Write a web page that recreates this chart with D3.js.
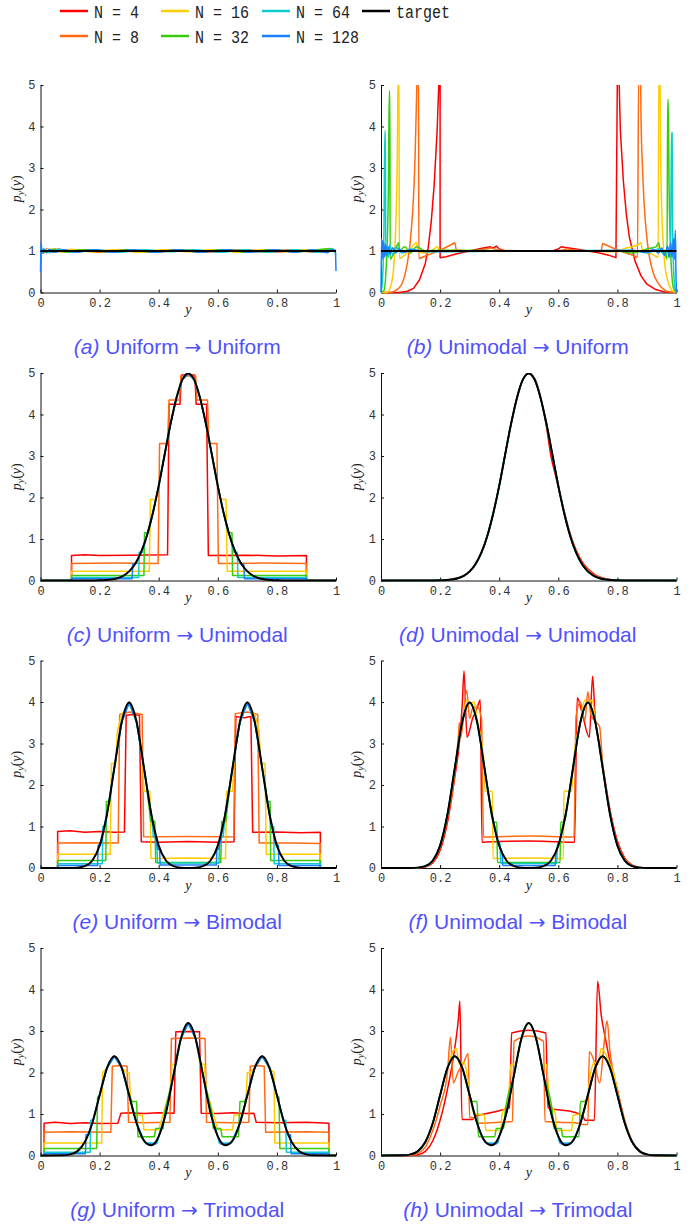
<!DOCTYPE html>
<html>
<head>
<meta charset="utf-8">
<script src="https://cdn.jsdelivr.net/npm/d3@7"></script>
<style>
  body { margin: 0; background: #fff; }
  svg { display: block; }
</style>
</head>
<body>
<div id="fig"></div>
<script>
'use strict';

// Legend / series
const seriesNames = ['N = 4', 'N = 8', 'N = 16', 'N = 32', 'N = 64', 'N = 128', 'target'];
const seriesColors = ['#ff0000', '#ff6a12', '#ffcc00', '#38cc0c', '#0ccccc', '#1a80ff', '#000000'];
const xTicks = [0, 0.2, 0.4, 0.6, 0.8, 1];
const yTicks = [0, 1, 2, 3, 4, 5];

// Targets
const flatTarget = [[0, 1], [1, 1]];
const uniTarget = [[0, 0], [0.18, 0.002], [0.2, 0.004], [0.22, 0.011], [0.24, 0.025], [0.26, 0.055], [0.28, 0.114], [0.3, 0.219], [0.32, 0.397], [0.34, 0.675], [0.36, 1.08], [0.38, 1.62], [0.4, 2.28], [0.42, 3.03], [0.44, 3.77], [0.46, 4.4], [0.48, 4.84], [0.5, 4.99], [0.52, 4.84], [0.54, 4.4], [0.56, 3.77], [0.58, 3.03], [0.6, 2.28], [0.62, 1.62], [0.64, 1.08], [0.66, 0.675], [0.68, 0.397], [0.7, 0.219], [0.72, 0.114], [0.74, 0.055], [0.76, 0.025], [0.78, 0.011], [0.8, 0.004], [0.82, 0.002], [1, 0]];
const biTarget = [[0, 0], [0.1, 0.001], [0.125, 0.009], [0.15, 0.044], [0.175, 0.175], [0.2, 0.54], [0.225, 1.296], [0.25, 2.42], [0.275, 3.521], [0.3, 3.99], [0.325, 3.521], [0.35, 2.42], [0.375, 1.296], [0.4, 0.54], [0.425, 0.175], [0.45, 0.044], [0.475, 0.009], [0.5, 0.003], [0.525, 0.009], [0.55, 0.044], [0.575, 0.175], [0.6, 0.54], [0.625, 1.296], [0.65, 2.42], [0.675, 3.521], [0.7, 3.99], [0.725, 3.521], [0.75, 2.42], [0.775, 1.296], [0.8, 0.54], [0.825, 0.175], [0.85, 0.044], [0.875, 0.009], [0.9, 0.001], [1, 0]];
const triTarget = [[0, 0], [0.075, 0.004], [0.1, 0.027], [0.125, 0.105], [0.15, 0.324], [0.175, 0.777], [0.2, 1.452], [0.225, 2.113], [0.25, 2.394], [0.275, 2.113], [0.3, 1.453], [0.325, 0.784], [0.35, 0.359], [0.375, 0.245], [0.4, 0.459], [0.425, 1.041], [0.45, 1.936], [0.475, 2.815], [0.5, 3.19], [0.525, 2.815], [0.55, 1.936], [0.575, 1.041], [0.6, 0.459], [0.625, 0.245], [0.65, 0.359], [0.675, 0.784], [0.7, 1.453], [0.725, 2.113], [0.75, 2.394], [0.775, 2.113], [0.8, 1.452], [0.825, 0.777], [0.85, 0.324], [0.875, 0.105], [0.9, 0.027], [0.925, 0.004], [1, 0]];

// pick the stretch of a read curve between a and b
const seg = (arr, a, b) => arr.filter(d => d[0] >= a && d[0] <= b);

// (a) Uniform -> Uniform
const aN4 = [[0, 1.0], [0.01, 0.95], [0.02, 1.05], [0.04, 0.97], [0.06, 1.04], [0.1, 0.98], [0.15, 1.03], [0.2, 0.98], [0.3, 1.02], [0.4, 0.98], [0.5, 1.02], [0.6, 0.98], [0.7, 1.02], [0.8, 0.98], [0.9, 1.02], [0.95, 0.97], [0.98, 1.04], [1, 1.0]];
const aN8 = [[0, 1.02], [0.02, 0.97], [0.05, 1.05], [0.08, 0.98], [0.12, 1.03], [0.2, 0.97], [0.28, 1.03], [0.36, 0.98], [0.45, 1.03], [0.55, 0.97], [0.65, 1.03], [0.75, 0.98], [0.85, 1.03], [0.93, 0.97], [0.98, 1.05], [1, 1.0]];
const aN16 = [[0, 0.97], [0.03, 1.04], [0.07, 0.97], [0.1, 1.04], [0.17, 0.98], [0.25, 1.03], [0.33, 0.97], [0.42, 1.03], [0.5, 0.98], [0.58, 1.03], [0.67, 0.97], [0.75, 1.03], [0.83, 0.98], [0.9, 1.03], [0.96, 0.97], [1, 1.04]];
const aN32 = [[0, 1.05], [0.01, 0.97], [0.04, 1.04], [0.09, 0.97], [0.14, 1.03], [0.22, 0.98], [0.3, 1.03], [0.38, 0.97], [0.47, 1.03], [0.53, 0.98], [0.62, 1.03], [0.7, 0.97], [0.78, 1.03], [0.87, 0.98], [0.95, 1.04], [0.98, 1.06], [1, 0.97]];
const aN64 = [[0, 1.1], [0.005, 0.95], [0.01, 1.05], [0.03, 0.96], [0.06, 1.04], [0.11, 0.97], [0.19, 1.03], [0.27, 0.97], [0.35, 1.03], [0.44, 0.98], [0.52, 1.03], [0.61, 0.97], [0.69, 1.03], [0.77, 0.97], [0.86, 1.03], [0.94, 0.97], [0.99, 1.04], [1, 0.9]];
const aN128 = [[0, 0.5], [0.002, 1.22], [0.005, 0.95], [0.01, 1.05], [0.02, 0.96], [0.03, 1.04], [0.05, 0.97], [0.08, 1.03], [0.12, 0.97], [0.18, 1.03], [0.24, 0.97], [0.31, 1.03], [0.39, 0.97], [0.46, 1.03], [0.54, 0.97], [0.63, 1.03], [0.71, 0.97], [0.79, 1.03], [0.86, 0.97], [0.92, 1.03], [0.97, 0.96], [0.99, 1.04], [0.998, 0.97], [1, 0.52]];

// (b) Unimodal -> Uniform
const bN4 = [[0, 0], [0.06, 0], [0.09, 0.03], [0.11, 0.1], [0.13, 0.3], [0.15, 0.7], [0.16, 1.1], [0.17, 1.7], [0.18, 2.6], [0.19, 3.9], [0.197, 5.3], [0.2, 5.3], [0.2, 0.84], [0.22, 0.86], [0.25, 0.92], [0.28, 0.97], [0.3, 1.0], [0.33, 1.05], [0.35, 1.08], [0.37, 1.1], [0.38, 1.07], [0.39, 1.12], [0.4, 1.05], [0.42, 1.0], [0.5, 1.0], [0.58, 1.0], [0.6, 1.05], [0.61, 1.1], [0.63, 1.08], [0.66, 1.05], [0.7, 1.0], [0.74, 0.95], [0.77, 0.9], [0.795, 0.84], [0.8, 5.3], [0.805, 5.3], [0.81, 3.9], [0.82, 2.7], [0.83, 1.9], [0.84, 1.35], [0.86, 0.75], [0.88, 0.4], [0.9, 0.2], [0.93, 0.07], [0.96, 0.01], [1, 0]];
const bN8 = [[0, 0], [0.03, 0], [0.05, 0.05], [0.07, 0.2], [0.08, 0.4], [0.09, 0.75], [0.1, 1.3], [0.11, 2.3], [0.115, 3.2], [0.12, 4.6], [0.123, 5.3], [0.127, 5.3], [0.128, 0.82], [0.15, 0.88], [0.2, 1.02], [0.245, 1.18], [0.25, 1.2], [0.255, 1.02], [0.3, 1.0], [0.35, 1.04], [0.37, 1.07], [0.4, 1.02], [0.5, 1.0], [0.6, 1.0], [0.63, 1.05], [0.65, 1.03], [0.7, 1.0], [0.745, 1.0], [0.75, 1.18], [0.76, 1.15], [0.8, 1.03], [0.85, 0.9], [0.868, 0.85], [0.872, 5.3], [0.878, 5.3], [0.88, 4.2], [0.885, 3.0], [0.89, 2.2], [0.9, 1.3], [0.91, 0.8], [0.92, 0.5], [0.94, 0.2], [0.96, 0.06], [0.98, 0.01], [1, 0]];
const bN16 = [[0, 0], [0.02, 0], [0.03, 0.1], [0.04, 0.4], [0.045, 0.8], [0.05, 1.6], [0.055, 3.2], [0.058, 5.3], [0.061, 5.3], [0.062, 0.82], [0.08, 0.9], [0.1, 1.05], [0.12, 1.2], [0.125, 1.0], [0.15, 0.95], [0.18, 1.05], [0.19, 1.1], [0.2, 1.0], [0.25, 1.02], [0.3, 1.0], [0.5, 1.0], [0.7, 1.0], [0.8, 0.98], [0.82, 1.05], [0.87, 1.15], [0.88, 1.2], [0.885, 1.0], [0.91, 0.95], [0.938, 0.85], [0.94, 5.3], [0.944, 5.3], [0.946, 3.5], [0.95, 2.0], [0.955, 1.2], [0.96, 0.7], [0.97, 0.3], [0.98, 0.1], [0.99, 0.02], [1, 0]];
const bN32 = [[0, 0], [0.01, 0.05], [0.015, 0.3], [0.02, 1.0], [0.025, 2.5], [0.028, 4.85], [0.03, 4.85], [0.031, 0.8], [0.04, 0.9], [0.05, 1.05], [0.06, 1.2], [0.062, 1.0], [0.08, 1.1], [0.1, 0.95], [0.12, 1.1], [0.15, 1.0], [0.2, 1.02], [0.5, 1.0], [0.8, 1.0], [0.85, 0.95], [0.9, 1.05], [0.93, 1.1], [0.94, 1.2], [0.945, 1.0], [0.96, 0.95], [0.968, 0.8], [0.97, 4.65], [0.972, 4.65], [0.975, 2.5], [0.98, 1.0], [0.985, 0.35], [0.99, 0.1], [1, 0]];
const bN64 = [[0, 0], [0.005, 0.3], [0.01, 1.5], [0.013, 3.9], [0.015, 3.9], [0.016, 0.9], [0.02, 1.1], [0.025, 0.85], [0.03, 1.15], [0.04, 0.9], [0.05, 1.1], [0.07, 0.95], [0.1, 1.05], [0.15, 0.98], [0.5, 1.0], [0.85, 1.02], [0.9, 0.95], [0.94, 1.05], [0.96, 0.9], [0.97, 1.1], [0.975, 0.85], [0.98, 1.1], [0.983, 3.85], [0.985, 3.85], [0.987, 1.5], [0.99, 0.6], [0.995, 0.1], [1, 0]];
const bN128 = [[0, 0], [0.002, 1.3], [0.004, 0.8], [0.006, 1.25], [0.008, 0.85], [0.01, 1.2], [0.013, 0.85], [0.016, 1.15], [0.02, 0.9], [0.025, 1.1], [0.03, 0.92], [0.04, 1.08], [0.05, 0.95], [0.06, 1.05], [0.08, 0.97], [0.1, 1.03], [0.15, 0.99], [0.5, 1.0], [0.85, 1.01], [0.9, 0.97], [0.92, 1.04], [0.94, 0.95], [0.95, 1.07], [0.96, 0.9], [0.97, 1.12], [0.975, 0.85], [0.98, 1.2], [0.985, 0.85], [0.99, 1.3], [0.993, 0.8], [0.996, 1.5], [0.998, 0.5], [1, 0]];

// (c) Uniform -> Unimodal
const cN4 = [[0, 0], [0.105, 0], [0.105, 0.6], [0.15, 0.62], [0.2, 0.6], [0.3, 0.61], [0.43, 0.62], [0.435, 4.25], [0.472, 4.25], [0.477, 4.95], [0.522, 4.95], [0.527, 4.25], [0.562, 4.25], [0.568, 0.6], [0.7, 0.61], [0.8, 0.59], [0.9, 0.6], [0.9, 0], [1, 0]];
const cN8 = [[0, 0], [0.105, 0], [0.105, 0.41], [0.25, 0.42], [0.398, 0.41], [0.403, 3.3], [0.43, 3.3], [0.435, 4.35], [0.47, 4.35], [0.475, 4.93], [0.525, 4.93], [0.53, 4.35], [0.565, 4.35], [0.57, 3.3], [0.597, 3.3], [0.602, 0.41], [0.75, 0.42], [0.9, 0.41], [0.9, 0], [1, 0]];
const cN16 = [[0, 0], [0.105, 0], [0.105, 0.22], [0.368, 0.22], [0.372, 1.95], [0.39, 1.95], ...seg(uniTarget, 0.4, 0.6), [0.61, 1.95], [0.628, 1.95], [0.632, 0.22], [0.9, 0.22], [0.9, 0], [1, 0]];
const cN32 = [[0, 0], [0.105, 0], [0.105, 0.12], [0.35, 0.12], [0.352, 1.15], [0.365, 1.15], ...seg(uniTarget, 0.38, 0.62), [0.635, 1.15], [0.648, 1.15], [0.65, 0.12], [0.9, 0.12], [0.9, 0], [1, 0]];
const cN64 = [[0, 0], [0.105, 0], [0.105, 0.07], [0.332, 0.07], [0.334, 0.68], [0.345, 0.68], ...seg(uniTarget, 0.36, 0.64), [0.655, 0.68], [0.666, 0.68], [0.668, 0.07], [0.9, 0.07], [0.9, 0], [1, 0]];
const cN128 = [[0, 0], [0.105, 0], [0.105, 0.04], [0.31, 0.04], [0.312, 0.4], [0.322, 0.4], ...seg(uniTarget, 0.34, 0.66), [0.678, 0.4], [0.688, 0.4], [0.69, 0.04], [0.9, 0.04], [0.9, 0], [1, 0]];

// (d) Unimodal -> Unimodal
const dN4 = [[0, 0], [0.2, 0.004], [0.24, 0.025], [0.28, 0.114], [0.32, 0.397], [0.36, 1.08], [0.4, 2.28], [0.44, 3.77], [0.48, 4.84], [0.5, 4.99], [0.52, 4.87], [0.54, 4.42], [0.56, 3.7], [0.575, 3.0], [0.59, 2.55], [0.61, 1.95], [0.64, 1.13], [0.68, 0.46], [0.72, 0.16], [0.76, 0.04], [0.8, 0.005], [1, 0]];
const dN8 = [[0, 0], [0.2, 0.004], [0.28, 0.114], [0.36, 1.08], [0.4, 2.28], [0.44, 3.77], [0.48, 4.84], [0.5, 4.99], [0.52, 4.86], [0.56, 3.8], [0.6, 2.3], [0.64, 1.12], [0.68, 0.43], [0.72, 0.14], [0.76, 0.035], [0.8, 0.005], [1, 0]];

// (e) Uniform -> Bimodal
const eN4 = [[0, 0], [0.058, 0], [0.058, 0.88], [0.1, 0.9], [0.15, 0.86], [0.2, 0.88], [0.25, 0.86], [0.284, 0.87], [0.29, 3.68], [0.31, 3.7], [0.335, 3.68], [0.341, 0.63], [0.4, 0.62], [0.5, 0.64], [0.6, 0.62], [0.655, 0.63], [0.661, 3.65], [0.69, 3.62], [0.712, 3.65], [0.718, 0.86], [0.8, 0.87], [0.88, 0.85], [0.947, 0.86], [0.947, 0], [1, 0]];
const eN8 = [[0, 0], [0.058, 0], [0.058, 0.6], [0.15, 0.61], [0.263, 0.6], [0.268, 3.7], [0.3, 3.76], [0.344, 3.7], [0.349, 0.75], [0.5, 0.76], [0.654, 0.75], [0.659, 3.72], [0.7, 3.76], [0.735, 3.7], [0.74, 0.6], [0.85, 0.6], [0.947, 0.59], [0.947, 0], [1, 0]];
const eN16 = [[0, 0], [0.058, 0], [0.058, 0.33], [0.236, 0.33], [0.24, 2.52], [0.255, 2.52], [0.26, 3.3], [0.275, 3.7], [0.3, 3.95], [0.325, 3.6], [0.345, 2.6], [0.35, 1.85], [0.37, 1.85], [0.374, 0.23], [0.5, 0.24], [0.626, 0.23], [0.63, 1.85], [0.65, 1.85], [0.655, 2.6], [0.675, 3.6], [0.7, 3.95], [0.725, 3.7], [0.74, 3.3], [0.745, 2.52], [0.76, 2.52], [0.764, 0.33], [0.947, 0.33], [0.947, 0], [1, 0]];
const eN32 = [[0, 0], [0.058, 0], [0.058, 0.18], [0.221, 0.18], [0.223, 1.6], [0.235, 1.6], [0.238, 1.9], ...seg(biTarget, 0.25, 0.35), [0.362, 1.8], [0.373, 1.12], [0.387, 1.12], [0.39, 0.13], [0.61, 0.13], [0.613, 1.12], [0.627, 1.12], [0.638, 1.8], ...seg(biTarget, 0.65, 0.75), [0.762, 1.9], [0.765, 1.6], [0.777, 1.6], [0.779, 0.18], [0.947, 0.18], [0.947, 0], [1, 0]];
const eN64 = [[0, 0], [0.058, 0], [0.058, 0.1], [0.209, 0.1], [0.211, 1.0], [0.22, 1.0], ...seg(biTarget, 0.225, 0.375), [0.382, 0.75], [0.393, 0.75], [0.396, 0.12], [0.604, 0.12], [0.607, 0.75], [0.618, 0.75], ...seg(biTarget, 0.625, 0.775), [0.78, 1.0], [0.789, 1.0], [0.791, 0.1], [0.947, 0.1], [0.947, 0], [1, 0]];
const eN128 = [[0, 0], [0.058, 0], [0.058, 0.06], [0.193, 0.06], [0.195, 0.55], [0.203, 0.55], [0.212, 0.9], ...seg(biTarget, 0.225, 0.375), [0.39, 0.7], [0.397, 0.45], [0.403, 0.45], [0.405, 0.07], [0.595, 0.07], [0.597, 0.45], [0.603, 0.45], [0.61, 0.7], ...seg(biTarget, 0.625, 0.775), [0.788, 0.9], [0.797, 0.55], [0.805, 0.55], [0.807, 0.06], [0.947, 0.06], [0.947, 0], [1, 0]];

// (f) Unimodal -> Bimodal
const fN4 = [[0, 0], [0.12, 0.003], [0.15, 0.025], [0.175, 0.12], [0.2, 0.42], [0.225, 1.1], [0.25, 2.2], [0.265, 3.0], [0.275, 3.95], [0.281, 4.75], [0.291, 3.15], [0.31, 3.6], [0.325, 3.85], [0.336, 4.05], [0.342, 0.62], [0.4, 0.64], [0.5, 0.65], [0.6, 0.63], [0.655, 0.62], [0.664, 4.1], [0.68, 3.75], [0.705, 3.15], [0.716, 4.62], [0.725, 3.6], [0.74, 2.95], [0.75, 2.5], [0.775, 1.4], [0.8, 0.65], [0.825, 0.24], [0.85, 0.07], [0.875, 0.017], [0.9, 0.004], [1, 0]];
const fN8 = [[0, 0], [0.12, 0.005], [0.15, 0.035], [0.175, 0.15], [0.2, 0.48], [0.225, 1.2], [0.25, 2.3], [0.262, 3.2], [0.265, 3.5], [0.27, 3.15], [0.29, 4.28], [0.3, 3.6], [0.31, 3.85], [0.325, 3.9], [0.34, 3.6], [0.347, 0.75], [0.5, 0.77], [0.653, 0.75], [0.66, 3.65], [0.675, 4.0], [0.69, 3.55], [0.7, 4.25], [0.71, 3.7], [0.73, 3.5], [0.74, 3.4], [0.75, 2.5], [0.775, 1.35], [0.8, 0.6], [0.825, 0.21], [0.85, 0.06], [0.875, 0.015], [0.9, 0.003], [1, 0]];
const fN16 = [[0, 0], [0.1, 0.001], [0.15, 0.04], [0.175, 0.17], [0.2, 0.53], [0.225, 1.28], [0.25, 2.4], [0.275, 3.5], [0.29, 4.05], [0.3, 3.95], [0.315, 4.0], [0.325, 3.6], [0.34, 3.05], [0.35, 2.4], [0.352, 1.85], [0.377, 1.85], [0.379, 0.23], [0.5, 0.24], [0.617, 0.23], [0.619, 1.85], [0.645, 1.85], [0.65, 2.45], [0.675, 3.55], [0.69, 4.05], [0.7, 3.95], [0.715, 4.05], [0.725, 3.55], [0.75, 2.45], [0.775, 1.3], [0.8, 0.55], [0.825, 0.18], [0.85, 0.045], [0.875, 0.01], [0.9, 0.001], [1, 0]];
const fN32 = [...seg(biTarget, 0, 0.35), [0.365, 1.7], [0.38, 1.1], [0.392, 1.1], [0.394, 0.13], [0.606, 0.13], [0.608, 1.1], [0.62, 1.1], [0.635, 1.7], ...seg(biTarget, 0.65, 1)];
const fN64 = [...seg(biTarget, 0, 0.375), [0.39, 0.85], [0.398, 0.6], [0.403, 0.6], [0.405, 0.11], [0.595, 0.11], [0.597, 0.6], [0.602, 0.6], [0.61, 0.85], ...seg(biTarget, 0.625, 1)];
const fN128 = [...seg(biTarget, 0, 0.4), [0.41, 0.35], [0.412, 0.06], [0.59, 0.06], [0.592, 0.35], ...seg(biTarget, 0.6, 1)];

// (g) Uniform -> Trimodal
const gN4 = [[0, 0], [0.012, 0], [0.012, 0.78], [0.05, 0.8], [0.1, 0.77], [0.15, 0.79], [0.2, 0.77], [0.262, 0.78], [0.272, 1.02], [0.3, 1.03], [0.35, 1.01], [0.4, 1.03], [0.452, 1.02], [0.458, 2.98], [0.5, 2.99], [0.538, 2.98], [0.544, 1.02], [0.6, 1.01], [0.65, 1.03], [0.7, 1.01], [0.722, 1.02], [0.73, 0.8], [0.8, 0.79], [0.9, 0.8], [0.976, 0.78], [0.976, 0], [1, 0]];
const gN8 = [[0, 0], [0.012, 0], [0.012, 0.56], [0.1, 0.57], [0.238, 0.56], [0.243, 2.15], [0.27, 2.17], [0.293, 2.15], [0.298, 0.8], [0.35, 0.79], [0.438, 0.8], [0.443, 2.82], [0.5, 2.83], [0.557, 2.82], [0.562, 0.8], [0.65, 0.79], [0.705, 0.8], [0.71, 2.15], [0.73, 2.17], [0.757, 2.15], [0.762, 0.56], [0.9, 0.57], [0.976, 0.56], [0.976, 0], [1, 0]];
const gN16 = [[0, 0], [0.012, 0], [0.012, 0.3], [0.207, 0.3], [0.21, 2.0], [0.225, 2.1], [0.25, 2.4], [0.275, 2.12], [0.29, 2.0], [0.3, 2.0], [0.305, 1.3], [0.315, 0.98], [0.345, 0.97], [0.35, 0.62], [0.4, 0.62], [0.415, 1.0], [0.44, 1.6], [0.445, 2.2], [0.46, 2.2], [0.475, 2.8], [0.5, 3.2], [0.525, 2.8], [0.54, 2.2], [0.555, 2.2], [0.56, 1.6], [0.585, 1.0], [0.6, 0.62], [0.65, 0.62], [0.655, 0.97], [0.685, 0.98], [0.695, 1.3], [0.7, 2.0], [0.71, 2.0], [0.725, 2.12], [0.75, 2.4], [0.775, 2.1], [0.79, 2.0], [0.793, 0.3], [0.976, 0.3], [0.976, 0], [1, 0]];
const gN32 = [[0, 0], [0.012, 0], [0.012, 0.17], [0.19, 0.17], [0.193, 1.4], [0.2, 1.45], [0.225, 2.11], [0.25, 2.39], [0.275, 2.11], [0.3, 1.45], [0.31, 1.3], [0.325, 1.3], [0.33, 0.45], [0.385, 0.45], [0.39, 0.65], [0.415, 0.65], [0.42, 1.04], [0.45, 1.94], [0.475, 2.82], [0.5, 3.19], [0.525, 2.82], [0.55, 1.94], [0.58, 1.04], [0.585, 0.65], [0.61, 0.65], [0.615, 0.45], [0.67, 0.45], [0.675, 1.3], [0.69, 1.3], [0.7, 1.45], [0.725, 2.11], [0.75, 2.39], [0.775, 2.11], [0.8, 1.45], [0.807, 1.4], [0.81, 0.17], [0.976, 0.17], [0.976, 0], [1, 0]];
const gN64 = [[0, 0], [0.012, 0], [0.012, 0.08], [0.168, 0.08], [0.17, 0.85], [0.178, 0.85], ...seg(triTarget, 0.2, 0.35), [0.355, 0.3], [0.395, 0.3], [0.4, 0.46], ...seg(triTarget, 0.425, 0.575), [0.6, 0.46], [0.605, 0.3], [0.645, 0.3], [0.65, 0.36], ...seg(triTarget, 0.675, 0.8), [0.822, 0.85], [0.83, 0.85], [0.832, 0.08], [0.976, 0.08], [0.976, 0], [1, 0]];
const gN128 = [[0, 0], [0.012, 0], [0.012, 0.04], [0.152, 0.04], [0.154, 0.5], [0.163, 0.5], ...seg(triTarget, 0.175, 0.35), [0.36, 0.28], [0.39, 0.28], ...seg(triTarget, 0.4, 0.6), [0.61, 0.28], [0.64, 0.28], ...seg(triTarget, 0.65, 0.825), [0.837, 0.5], [0.846, 0.5], [0.848, 0.04], [0.976, 0.04], [0.976, 0], [1, 0]];

// (h) Unimodal -> Trimodal
const hN4 = [[0, 0], [0.1, 0.003], [0.125, 0.02], [0.15, 0.1], [0.175, 0.35], [0.2, 0.85], [0.225, 1.6], [0.25, 2.6], [0.262, 3.3], [0.267, 3.72], [0.274, 0.87], [0.31, 0.87], [0.32, 0.95], [0.35, 1.0], [0.4, 1.08], [0.435, 1.15], [0.442, 2.95], [0.5, 3.02], [0.558, 2.95], [0.565, 1.15], [0.6, 1.1], [0.65, 1.05], [0.683, 0.95], [0.69, 0.85], [0.722, 0.85], [0.733, 4.2], [0.745, 3.4], [0.76, 2.8], [0.78, 2.1], [0.8, 1.55], [0.825, 0.8], [0.85, 0.32], [0.875, 0.09], [0.9, 0.02], [0.95, 0], [1, 0]];
const hN8 = [[0, 0], [0.1, 0.005], [0.125, 0.05], [0.15, 0.2], [0.175, 0.6], [0.2, 1.2], [0.225, 2.0], [0.235, 2.85], [0.245, 1.75], [0.26, 2.0], [0.28, 2.25], [0.295, 2.45], [0.3, 0.92], [0.32, 0.9], [0.33, 0.78], [0.4, 0.8], [0.445, 0.82], [0.45, 2.75], [0.5, 2.88], [0.55, 2.75], [0.555, 0.82], [0.6, 0.8], [0.67, 0.78], [0.68, 0.75], [0.7, 0.75], [0.705, 2.5], [0.72, 2.3], [0.74, 1.75], [0.755, 2.7], [0.765, 3.25], [0.775, 2.5], [0.8, 1.6], [0.825, 0.85], [0.85, 0.35], [0.875, 0.1], [0.9, 0.02], [0.95, 0], [1, 0]];
const hN16 = [...seg(triTarget, 0, 0.225), [0.24, 2.45], [0.255, 2.58], [0.265, 2.2], [0.28, 2.25], [0.29, 2.0], [0.3, 1.5], [0.315, 1.0], [0.35, 0.97], [0.355, 0.6], [0.405, 0.6], [0.41, 1.0], [0.43, 1.3], [0.44, 2.2], [0.455, 2.2], [0.475, 2.8], [0.5, 3.18], [0.525, 2.8], [0.545, 2.2], [0.56, 2.2], [0.57, 1.3], [0.59, 1.0], [0.595, 0.6], [0.645, 0.6], [0.65, 0.97], [0.685, 1.0], [0.7, 1.5], [0.71, 2.0], [0.72, 2.25], [0.735, 2.2], [0.745, 2.58], [0.76, 2.45], [0.775, 2.2], [0.79, 1.9], [0.8, 1.5], ...seg(triTarget, 0.825, 1)];
const hN32 = [...seg(triTarget, 0, 0.3), [0.31, 1.3], [0.325, 1.3], [0.33, 0.45], [0.385, 0.45], [0.39, 0.65], [0.415, 0.65], [0.42, 1.04], ...seg(triTarget, 0.45, 0.55), [0.58, 1.04], [0.585, 0.65], [0.61, 0.65], [0.615, 0.45], [0.67, 0.45], [0.675, 1.3], [0.69, 1.3], ...seg(triTarget, 0.7, 1)];
const hN64 = [...seg(triTarget, 0, 0.35), [0.355, 0.3], [0.395, 0.3], [0.4, 0.46], ...seg(triTarget, 0.425, 0.575), [0.6, 0.46], [0.605, 0.3], [0.645, 0.3], [0.65, 0.36], ...seg(triTarget, 0.675, 1)];
const hN128 = [...seg(triTarget, 0, 0.35), [0.36, 0.28], [0.39, 0.28], ...seg(triTarget, 0.4, 0.6), [0.61, 0.28], [0.64, 0.28], ...seg(triTarget, 0.65, 1)];

// Panels
const panels = [
    {tag: '(a)', from: 'Uniform', to: 'Uniform', col: 0, row: 0, curves: [aN4, aN8, aN16, aN32, aN64, aN128], target: flatTarget},
    {tag: '(b)', from: 'Unimodal', to: 'Uniform', col: 1, row: 0, curves: [bN4, bN8, bN16, bN32, bN64, bN128], target: flatTarget},
    {tag: '(c)', from: 'Uniform', to: 'Unimodal', col: 0, row: 1, curves: [cN4, cN8, cN16, cN32, cN64, cN128], target: uniTarget},
    {tag: '(d)', from: 'Unimodal', to: 'Unimodal', col: 1, row: 1, curves: [dN4, dN8, uniTarget, uniTarget, uniTarget, uniTarget], target: uniTarget},
    {tag: '(e)', from: 'Uniform', to: 'Bimodal', col: 0, row: 2, curves: [eN4, eN8, eN16, eN32, eN64, eN128], target: biTarget},
    {tag: '(f)', from: 'Unimodal', to: 'Bimodal', col: 1, row: 2, curves: [fN4, fN8, fN16, fN32, fN64, fN128], target: biTarget},
    {tag: '(g)', from: 'Uniform', to: 'Trimodal', col: 0, row: 3, curves: [gN4, gN8, gN16, gN32, gN64, gN128], target: triTarget},
    {tag: '(h)', from: 'Unimodal', to: 'Trimodal', col: 1, row: 3, curves: [hN4, hN8, hN16, hN32, hN64, hN128], target: triTarget}
];

// curves with vertical jumps stay straight, smooth ones get monotone interpolation
const hasJumps = arr => arr.some((d, i) => i > 0 && d[0] === arr[i - 1][0]);

class DensityPanel {

    // Configs
    colX = [40.5, 381];
    rowY = [85, 373, 660.5, 948];
    pw = 295.5;
    ph = 207.5;

    constructor(_cfg, _svg, _i) {
        this.cfg = _cfg;
        this.svg = _svg;
        this.idx = _i;
        this.initVis();
    }

    initVis() {
        const vis = this;
        const c = vis.cfg;

        vis.left = vis.colX[c.col];
        vis.top = vis.rowY[c.row];

        vis.g = vis.svg.append('g')
            .attr('transform', `translate(${vis.left},${vis.top})`);

        vis.x = d3.scaleLinear().domain([0, 1]).range([0, vis.pw]);
        vis.y = d3.scaleLinear().domain([0, 5]).range([vis.ph, 0]);

        // clip anything above 5
        const clipId = `clip-${vis.idx}`;
        vis.g.append('clipPath')
            .attr('id', clipId)
            .append('rect')
            .attr('x', -2)
            .attr('y', 0)
            .attr('width', vis.pw + 4)
            .attr('height', vis.ph + 2);

        // Axes
        const xAxis = d3.axisBottom(vis.x)
            .tickValues(xTicks)
            .tickFormat(d => String(d))
            .tickSizeInner(-3)
            .tickSizeOuter(0)
            .tickPadding(5);
        const yAxis = d3.axisLeft(vis.y)
            .tickValues(yTicks)
            .tickFormat(d => String(d))
            .tickSizeInner(-3)
            .tickSizeOuter(0)
            .tickPadding(5);

        const gx = vis.g.append('g')
            .attr('transform', `translate(0,${vis.ph})`)
            .call(xAxis);
        const gy = vis.g.append('g').call(yAxis);
        [gx, gy].forEach(a => {
            a.selectAll('path, line').attr('stroke', '#111').attr('stroke-width', 1);
            a.selectAll('text')
                .attr('fill', '#333')
                .style('font-family', '"Liberation Mono", "DejaVu Sans Mono", monospace')
                .style('font-size', '12px');
        });
        gx.selectAll('text').attr('dy', '0.75em');

        // Curves
        const lineStep = d3.line()
            .x(d => vis.x(d[0]))
            .y(d => vis.y(d[1]));
        const lineSmooth = d3.line()
            .x(d => vis.x(d[0]))
            .y(d => vis.y(d[1]))
            .curve(d3.curveMonotoneX);

        const plot = vis.g.append('g').attr('clip-path', `url(#${clipId})`);
        plot.selectAll('path.n')
            .data(c.curves)
            .join('path')
            .attr('class', 'n')
            .attr('d', d => hasJumps(d) ? lineStep(d) : lineSmooth(d))
            .attr('fill', 'none')
            .attr('stroke', (d, i) => seriesColors[i])
            .attr('stroke-width', 1.5)
            .attr('stroke-linejoin', 'round');
        plot.append('path')
            .datum(c.target)
            .attr('d', lineSmooth)
            .attr('fill', 'none')
            .attr('stroke', seriesColors[6])
            .attr('stroke-width', 2);

        // Axis labels
        const yl = vis.g.append('text')
            .attr('transform', `translate(-20,${vis.ph / 2}) rotate(-90)`)
            .attr('text-anchor', 'middle')
            .style('font-family', '"Liberation Serif", "DejaVu Serif", serif')
            .style('font-size', '14px')
            .attr('fill', '#222');
        yl.append('tspan').attr('font-style', 'italic').text('p');
        yl.append('tspan').attr('font-style', 'italic').attr('font-size', '10px').attr('dy', 3).text('y');
        yl.append('tspan').attr('dy', -3).text('(');
        yl.append('tspan').attr('font-style', 'italic').text('y');
        yl.append('tspan').text(')');

        vis.g.append('text')
            .attr('x', vis.pw / 2)
            .attr('y', vis.ph + 21.5)
            .attr('text-anchor', 'middle')
            .style('font-family', '"Liberation Serif", "DejaVu Serif", serif')
            .style('font-style', 'italic')
            .style('font-size', '14px')
            .attr('fill', '#222')
            .text('y');

        // Caption
        const cap = vis.g.append('text')
            .attr('x', vis.pw / 2 - 11)
            .attr('y', vis.ph + 61)
            .attr('text-anchor', 'middle')
            .style('font-family', '"Liberation Sans", Arial, sans-serif')
            .style('font-size', '21px')
            .attr('fill', '#5050ff');
        cap.append('tspan').attr('font-style', 'italic').text(c.tag);
        cap.append('tspan').text(' ' + c.from + ' ');
        cap.append('tspan')
            .style('font-family', '"DejaVu Sans", sans-serif')
            .style('font-size', '20px')
            .text('\u2192');
        cap.append('tspan').text(' ' + c.to);
    }
}

// Build
const svg = d3.select('#fig')
    .append('svg')
    .attr('width', 699)
    .attr('height', 1225);

// Legend
const legCols = [60, 161, 262, 362];
const legRows = [11, 36];
const legend = svg.append('g').attr('class', 'legend');
seriesNames.forEach((name, i) => {
    const lx = legCols[Math.floor(i / 2)];
    const ly = legRows[i % 2];
    legend.append('line')
        .attr('x1', lx).attr('x2', lx + 28)
        .attr('y1', ly).attr('y2', ly)
        .attr('stroke', seriesColors[i])
        .attr('stroke-width', 2.5);
    legend.append('text')
        .attr('transform', `translate(${lx + 34},${ly + 7}) scale(1,1.25)`)
        .style('font-family', '"Liberation Mono", "DejaVu Sans Mono", monospace')
        .style('font-size', '15px')
        .attr('fill', '#222')
        .attr('xml:space', 'preserve')
        .text(name);
});

panels.forEach((p, i) => new DensityPanel(p, svg, i));
</script>
</body>
</html>
